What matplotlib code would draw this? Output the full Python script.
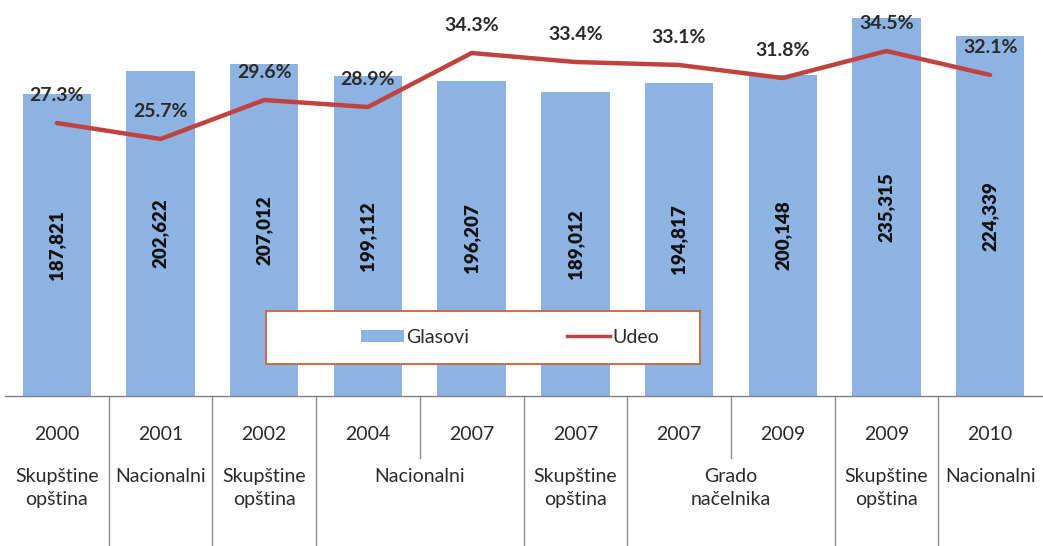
import matplotlib
matplotlib.use("Agg")
import matplotlib.pyplot as plt
from matplotlib.patches import Patch, Rectangle
from matplotlib.lines import Line2D
import matplotlib.transforms as mtransforms

plt.rcParams['font.family'] = ['Lato', 'DejaVu Sans']

years = ["2000", "2001", "2002", "2004", "2007", "2007", "2007", "2009", "2009", "2010"]
glasovi = [187821, 202622, 207012, 199112, 196207, 189012, 194817, 200148, 235315, 224339]
udeo = [27.3, 25.7, 29.6, 28.9, 34.3, 33.4, 33.1, 31.8, 34.5, 32.1]
group_labels = ["Skupštine\nopština", "Nacionalni", "Skupštine\nopština", "Nacionalni",
                "Skupštine\nopština", "Grado\nnačelnika", "Skupštine\nopština", "Nacionalni"]
group_spans = [(0, 0), (1, 1), (2, 2), (3, 4), (5, 5), (6, 7), (8, 8), (9, 9)]

BAR = "#8db3e2"
LINE = "#c0433f"
TXT = "#2a2a2a"

W, H = 1043, 546
fig = plt.figure(figsize=(W / 100, H / 100), dpi=100)
left, right, top, bottom = 5, 1042, 0, 396
ax = fig.add_axes([left / W, (H - bottom) / H, (right - left) / W, (bottom - top) / H])
x = list(range(len(years)))
ax.bar(x, glasovi, width=0.66, color=BAR, zorder=2)
ax.set_xlim(-0.5, len(years) - 0.5)
ax.set_ylim(0, 246600)
for s in ["top", "left", "right"]:
    ax.spines[s].set_visible(False)
ax.spines["bottom"].set_color("#7f7f7f")
ax.spines["bottom"].set_linewidth(1.0)
ax.set_xticks([])
ax.set_yticks([])

for xi, v in zip(x, glasovi):
    ax.text(xi, v / 2, f"{v:,}", rotation=90, ha="center", va="center",
            fontsize=13.5, fontweight="heavy", color="#111111", zorder=4)

ax2 = ax.twinx()
ax2.set_ylim(0, 39.6)
ax2.plot(x, udeo, color=LINE, lw=3.2, zorder=3, solid_capstyle="round")
for s in ["top", "left", "right", "bottom"]:
    ax2.spines[s].set_visible(False)
ax2.set_yticks([])
for xi, p in zip(x, udeo):
    ax2.annotate(f"{p:.1f}%", (xi, p), xytext=(0, 20), textcoords="offset points",
                 ha="center", va="center", fontsize=14, fontweight="bold", color=TXT)

# multi-level category axis
tr = mtransforms.blended_transform_factory(ax.transData, ax.transAxes)
axis_h = bottom - top
def frac(ypix):
    return (bottom - ypix) / axis_h

for xi, yr in zip(x, years):
    ax.text(xi, frac(435), yr, transform=tr, ha="center", va="center",
            fontsize=14, color=TXT, clip_on=False)

starts = [s for s, e in group_spans]
for lab, (s, e) in zip(group_labels, group_spans):
    ax.text((s + e) / 2, frac(468), lab, transform=tr, ha="center", va="top",
            fontsize=14, color=TXT, linespacing=1.45, clip_on=False)

for k in range(1, len(years)):
    b = k - 0.5
    if k in starts:
        y_end = frac(H + 2)
    else:
        y_end = frac(458)
    ax.plot([b, b], [0, y_end], transform=tr, color="#8c8c8c", lw=1.0, clip_on=False)

# legend
lx0, lx1, ly0, ly1 = 266, 700, 311, 364
fig.patches.append(Rectangle((lx0 / W, (H - ly1) / H), (lx1 - lx0) / W, (ly1 - ly0) / H,
                             transform=fig.transFigure, facecolor="white",
                             edgecolor="#d0603a", lw=1.3, zorder=5))
handles = [Patch(facecolor=BAR, edgecolor="none"), Line2D([], [], color=LINE, lw=2.5)]
leg = fig.legend(handles, ["Glasovi", "Udeo"], loc="center",
                 bbox_to_anchor=(((lx0 + lx1) / 2 + 27) / W, (H - (ly0 + ly1) / 2) / H),
                 ncol=2, frameon=False, fontsize=14, handlelength=2.2, handleheight=0.6,
                 handletextpad=0.15, columnspacing=5.0, labelcolor=TXT)
leg.set_zorder(6)

fig.savefig("out.png", dpi=100, facecolor="white")
